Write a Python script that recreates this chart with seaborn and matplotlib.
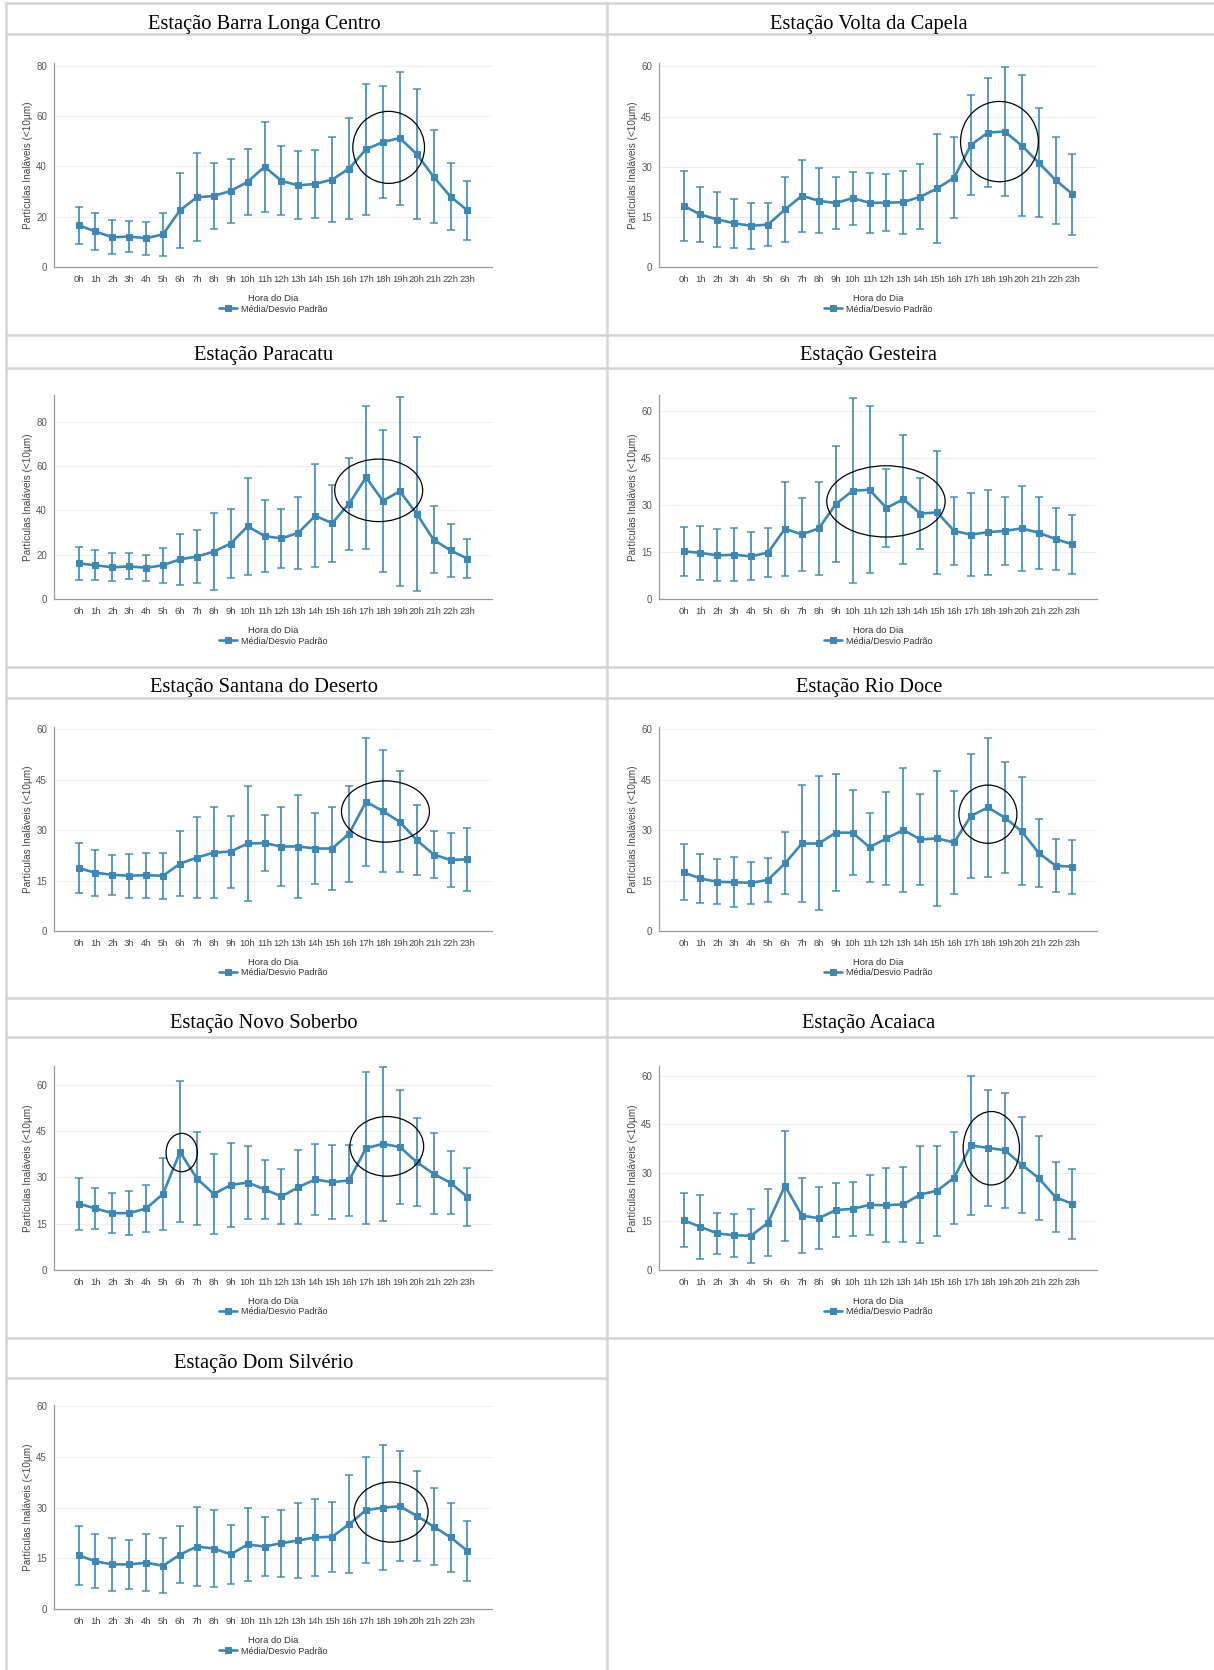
import numpy as np
import pandas as pd
import matplotlib
matplotlib.use("Agg")
import matplotlib.pyplot as plt
import seaborn as sns
from matplotlib.patches import Ellipse
from matplotlib.lines import Line2D

# ---------------- data ----------------
hour_labels = [f"{h}h" for h in range(24)]

stations = ["Estação Barra Longa Centro", "Estação Volta da Capela",
            "Estação Paracatu", "Estação Gesteira",
            "Estação Santana do Deserto", "Estação Rio Doce",
            "Estação Novo Soberbo", "Estação Acaiaca",
            "Estação Dom Silvério"]

mean_barra_longa = [16.6, 14.1, 11.8, 12.1, 11.4, 13.0, 22.5, 27.7, 28.2, 30.2, 33.8, 39.8,
                    34.2, 32.4, 33.0, 34.7, 39.1, 46.7, 49.6, 51.2, 44.8, 35.8, 27.9, 22.5]
sd_barra_longa = [7.4, 7.5, 6.8, 6.3, 6.5, 8.6, 15.0, 17.5, 13.1, 12.8, 13.0, 17.8,
                  13.7, 13.5, 13.5, 16.8, 20.2, 26.0, 22.2, 26.4, 25.8, 18.4, 13.4, 11.6]

mean_volta_capela = [18.3, 15.7, 14.2, 13.1, 12.3, 12.7, 17.2, 21.3, 19.8, 19.1, 20.6, 19.2,
                     19.2, 19.4, 21.0, 23.5, 26.7, 36.5, 40.2, 40.5, 36.3, 31.2, 26.0, 21.8]
sd_volta_capela = [10.5, 8.1, 8.3, 7.3, 6.8, 6.5, 9.7, 10.7, 9.7, 7.7, 7.9, 9.0,
                   8.5, 9.4, 9.7, 16.3, 12.1, 15.0, 16.2, 19.3, 21.0, 16.3, 13.0, 12.1]

mean_paracatu = [16.1, 15.2, 14.3, 14.7, 14.1, 15.2, 17.9, 19.1, 21.4, 25.0, 32.8, 28.4,
                 27.3, 29.9, 37.5, 34.2, 43.0, 54.8, 44.3, 48.6, 38.4, 26.7, 21.9, 18.2]
sd_paracatu = [7.5, 6.7, 6.3, 5.9, 5.9, 7.9, 11.6, 12.0, 17.5, 15.7, 21.8, 16.4,
               13.3, 16.2, 23.2, 17.4, 20.8, 32.2, 32.1, 42.6, 34.7, 15.1, 12.0, 8.7]

mean_gesteira = [15.2, 14.7, 13.9, 14.1, 13.6, 14.8, 22.4, 20.6, 22.5, 30.2, 34.5, 34.8,
                 29.0, 31.8, 27.2, 27.6, 21.7, 20.5, 21.3, 21.7, 22.5, 21.1, 19.1, 17.4]
sd_gesteira = [7.8, 8.7, 8.3, 8.4, 7.7, 7.8, 15.0, 11.6, 14.7, 18.4, 29.5, 26.6,
               12.5, 20.6, 11.3, 19.6, 10.9, 13.3, 13.5, 10.9, 13.5, 11.5, 10.0, 9.4]

mean_santana = [18.7, 17.3, 16.7, 16.4, 16.6, 16.4, 20.0, 21.8, 23.3, 23.6, 26.0, 26.1,
                25.1, 25.1, 24.5, 24.5, 28.9, 38.4, 35.6, 32.4, 27.0, 22.7, 21.1, 21.3]
sd_santana = [7.5, 6.8, 6.0, 6.6, 6.7, 6.8, 9.7, 12.1, 13.4, 10.7, 17.1, 8.4,
              11.6, 15.3, 10.5, 12.4, 14.2, 19.0, 18.1, 15.0, 10.4, 7.0, 7.9, 9.3]

mean_rio_doce = [17.4, 15.6, 14.6, 14.5, 14.3, 15.2, 20.1, 26.0, 26.0, 29.2, 29.2, 24.9,
                 27.5, 30.0, 27.2, 27.5, 26.3, 34.2, 36.7, 33.7, 29.6, 23.2, 19.4, 19.1]
sd_rio_doce = [8.3, 7.4, 6.7, 7.4, 6.2, 6.6, 9.2, 17.4, 19.9, 17.4, 12.7, 10.3,
               13.7, 18.3, 13.4, 20.0, 15.2, 18.4, 20.6, 16.6, 16.0, 10.1, 7.9, 8.0]

mean_novo_soberbo = [21.5, 19.9, 18.4, 18.4, 19.9, 24.6, 38.2, 29.6, 24.6, 27.5, 28.3, 26.1,
                     23.8, 26.8, 29.3, 28.4, 29.0, 39.4, 40.8, 39.8, 34.9, 31.1, 28.2, 23.6]
sd_novo_soberbo = [8.4, 6.5, 6.5, 7.2, 7.5, 11.6, 22.8, 15.2, 12.8, 13.5, 11.7, 9.6,
                   8.9, 12.0, 11.4, 11.9, 11.5, 24.6, 25.0, 18.5, 14.3, 13.1, 10.2, 9.4]

mean_acaiaca = [15.4, 13.3, 11.3, 10.7, 10.6, 14.6, 26.0, 16.8, 16.0, 18.5, 18.9, 20.1,
                20.0, 20.3, 23.3, 24.5, 28.5, 38.5, 37.7, 37.0, 32.5, 28.4, 22.5, 20.4]
sd_acaiaca = [8.4, 9.8, 6.4, 6.7, 8.3, 10.3, 17.0, 11.7, 9.6, 8.4, 8.4, 9.3,
              11.5, 11.6, 15.0, 13.9, 14.2, 21.4, 17.8, 17.7, 14.9, 12.9, 10.9, 10.8]

mean_dom_silverio = [15.9, 14.1, 13.2, 13.2, 13.7, 12.8, 16.1, 18.5, 17.9, 16.2, 19.1, 18.5,
                     19.5, 20.3, 21.2, 21.4, 25.1, 29.3, 30.0, 30.4, 27.6, 24.4, 21.2, 17.2]
sd_dom_silverio = [8.7, 8.0, 7.8, 7.2, 8.4, 8.1, 8.5, 11.8, 11.5, 8.8, 10.8, 8.8,
                   9.9, 11.0, 11.4, 10.4, 14.5, 15.8, 18.5, 16.3, 13.4, 11.5, 10.3, 8.8]

means = [mean_barra_longa, mean_volta_capela, mean_paracatu, mean_gesteira, mean_santana,
         mean_rio_doce, mean_novo_soberbo, mean_acaiaca, mean_dom_silverio]
sds = [sd_barra_longa, sd_volta_capela, sd_paracatu, sd_gesteira, sd_santana,
       sd_rio_doce, sd_novo_soberbo, sd_acaiaca, sd_dom_silverio]

# highlight ellipses: (hour centre, value centre, width in hours, height in values)
highlights = [
    [(18.34, 47.5, 4.24, 28.6)],
    [(18.68, 37.5, 4.6, 24.0)],
    [(17.75, 49.0, 5.2, 28.2)],
    [(11.97, 31.1, 7.0, 22.7)],
    [(18.15, 35.5, 5.2, 18.2)],
    [(18.0, 34.7, 3.43, 17.3)],
    [(6.1, 38.0, 1.85, 12.4), (18.23, 40.0, 4.36, 19.3)],
    [(18.2, 37.6, 3.33, 22.7)],
    [(18.48, 28.7, 4.38, 17.8)],
]
tick_steps = [20, 15, 20, 15, 15, 15, 15, 15, 15]
y_tops = [81, 61, 92, 65, 60.6, 60.6, 66, 63, 60.4]

# ---------------- style ----------------
sns.set_theme(style="white")
plt.rcParams['font.family'] = ['Liberation Sans', 'DejaVu Sans']

W, H = 1214, 1670
fig = plt.figure(figsize=(W / 100, H / 100), dpi=100)
fig.patch.set_facecolor("white")

def fx(px):
    return px / W

def fy(py):
    return 1 - py / H

border = "#d4d4d4"
def hline(y, x0, x1):
    fig.add_artist(Line2D([fx(x0), fx(x1)], [fy(y), fy(y)], color=border, lw=1.8))

def vline(x, y0, y1):
    fig.add_artist(Line2D([fx(x), fx(x)], [fy(y0), fy(y1)], color=border, lw=1.8))

for y in [3, 34, 335, 368, 667, 698, 998, 1037, 1338]:
    hline(y, 6, W)
hline(1378, 6, 607)
vline(6, 3, H)
vline(607, 3, H)

title_baselines = [29, 360, 692, 1028, 1368]
title_x = [264, 869]
axes_left = [54, 659]
axes_top = [63, 395, 727, 1066, 1405]
AX_W, AX_H = 438, 204

line_color = "#3c87b4"

for i, name in enumerate(stations):
    r, c = divmod(i, 2)
    fig.text(fx(title_x[c]), fy(title_baselines[r]), name, ha="center", va="baseline",
             fontsize=14.8, family=["Liberation Serif", "DejaVu Serif"], color="black")

    ax = fig.add_axes([fx(axes_left[c]), fy(axes_top[r] + AX_H), AX_W / W, AX_H / H])
    df = pd.DataFrame({"hora": np.arange(24), "media": means[i], "sd": sds[i]})

    ax.errorbar(df["hora"], df["media"], yerr=df["sd"], fmt="none", ecolor=line_color,
                elinewidth=1.4, capsize=2.6, capthick=1.2, alpha=0.85, zorder=2)
    sns.lineplot(data=df, x="hora", y="media", ax=ax, color=line_color, marker="s",
                 markersize=4.5, markeredgecolor=line_color, linewidth=1.9,
                 label="Média/Desvio Padrão", zorder=3)

    top = y_tops[i]
    step = tick_steps[i]
    ticks = np.arange(0, top, step)
    ax.set_ylim(0, top)
    ax.set_yticks(ticks)
    ax.set_yticklabels([f"{int(t)}" for t in ticks])
    ax.set_xlim(-1.45, 24.45)
    ax.set_xticks(np.arange(24))
    ax.set_xticklabels(hour_labels)

    for t in ticks[1:]:
        ax.axhline(t, color="#efefef", lw=0.8, zorder=0)

    for sp in ["top", "right"]:
        ax.spines[sp].set_visible(False)
    for sp in ["left", "bottom"]:
        ax.spines[sp].set_color("#9a9a9a")
        ax.spines[sp].set_linewidth(0.9)
    ax.tick_params(axis="both", length=0, pad=5)
    ax.tick_params(axis="x", labelsize=6.8, labelcolor="#444444", pad=6)
    ax.tick_params(axis="y", labelsize=7, labelcolor="#555555")

    ax.set_xlabel("Hora do Dia", fontsize=6.8, color="#333333")
    ax.xaxis.set_label_coords(0.5, -27 / AX_H)
    ax.set_ylabel("Partículas Inaláveis (<10µm)", fontsize=7.2, color="#444444")
    ax.yaxis.set_label_coords(-21 / AX_W, 0.5)

    leg = ax.legend(loc="center", bbox_to_anchor=(0.5, -42 / AX_H), frameon=False,
                    fontsize=6.5, handlelength=2.0, handletextpad=0.4, borderpad=0)
    for t in leg.get_texts():
        t.set_color("#333333")

    for (cx, cy, w, h) in highlights[i]:
        ax.add_patch(Ellipse((cx, cy), w, h, fill=False, edgecolor="black", lw=0.9,
                             zorder=5, clip_on=False))

fig.savefig("out.png", dpi=100, facecolor="white")
